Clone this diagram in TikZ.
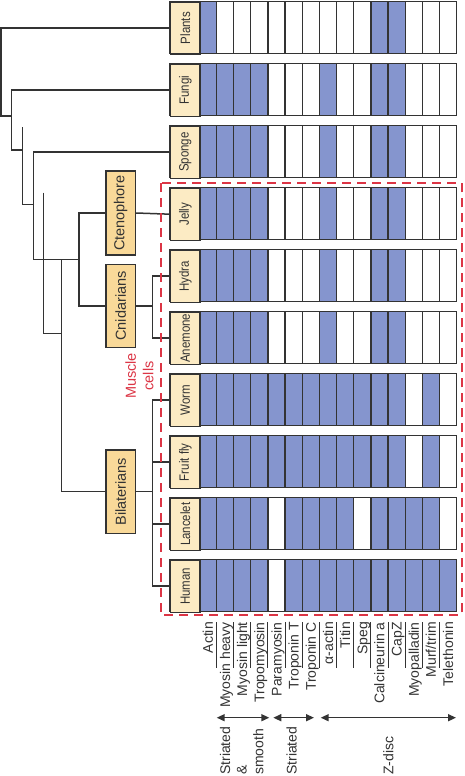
\documentclass[tikz,border=0pt]{standalone}
\usepackage{fontspec}
\setmainfont{Liberation Sans}
\usepackage{graphicx}
\usetikzlibrary{arrows.meta}
\definecolor{cellblue}{HTML}{8595CE}
\definecolor{labfill}{HTML}{FCEBC4}
\definecolor{grpfill}{HTML}{F9D999}
\definecolor{ink}{HTML}{333333}
\definecolor{musred}{HTML}{DC3545}
\tikzset{
  rowlab/.style={draw=ink, fill=labfill, line width=1.4pt, minimum width=29.3pt, minimum height=52pt, inner sep=0pt, anchor=north west, text=ink, font=\fontsize{13.5}{15}\selectfont},
  grpbox/.style={draw=ink, fill=grpfill, line width=1.5pt, minimum width=29.3pt, inner sep=0pt, text=ink, font=\fontsize{14.5}{17}\selectfont},
  branch/.style={draw=ink, line width=1.5pt},
  cellline/.style={draw=ink, line width=1.4pt},
  protlab/.style={rotate=90, anchor=east, inner sep=0pt, text height=10pt, text depth=0pt, font=\fontsize{14}{16.8}\selectfont, text=ink},
  sepline/.style={draw=ink, line width=1pt},
  rangearrow/.style={draw=ink, line width=1.5pt, {Triangle[length=8pt,width=7pt]}-{Triangle[length=8pt,width=7pt]}},
  rangetext/.style={rotate=90, anchor=west, inner sep=0pt, align=left, font=\fontsize{14}{16.7}\selectfont, text=ink},
}
\begin{document}
\begin{tikzpicture}[x=1pt,y=-1pt]
\useasboundingbox (0,0) rectangle (464,776);
\fill[white] (0,0) rectangle (464,776);

% table rows
\foreach \lab/\nm/\cols [count=\i from 0] in {
  Plants/plants/{1,11,12},
  Fungi/fungi/{1,2,3,4,8,11,12},
  Sponge/sponge/{1,2,3,4,8,11,12},
  Jelly/jelly/{1,2,3,4,8,11,12},
  Hydra/hydra/{1,2,3,4,8,11,12},
  Anemone/anemone/{1,2,3,4,8,11,12},
  Worm/worm/{1,2,3,4,5,6,7,8,9,10,11,12,14},
  Fruit fly/fly/{1,2,3,4,5,6,7,8,9,10,11,12,14},
  Lancelet/lancelet/{1,2,3,4,6,7,8,9,11,12,13,14},
  Human/human/{1,2,3,4,6,7,8,9,10,11,12,13,14,15}}{
  \pgfmathsetmacro\rt{1.5+62*\i}
  \fill[white] (199.3,\rt) rectangle (456.7,\rt+52);
  \foreach \c in \cols { \fill[cellblue] ({199.3+17.16*(\c-1)},\rt) rectangle ++(17.16,52); }
  \foreach \k in {1,...,14} { \draw[cellline] ({199.3+17.16*\k},\rt) -- ++(0,52); }
  \draw[cellline] (170,\rt) rectangle (456.7,\rt+52);
  \node[rowlab] (\nm) at (170,\rt) {\rotatebox{90}{\scalebox{0.85}[1]{\lab}}};
}

% group boxes
\node[grpbox, minimum height=84pt] (cteno) at (120.65,213) {\rotatebox{90}{Ctenophore}};
\node[grpbox, minimum height=83.4pt] (cnid) at (120.65,306) {\rotatebox{90}{Cnidarians}};
\node[grpbox, minimum height=83.3pt] (bilat) at (120.65,491.7) {\rotatebox{90}{Bilaterians}};

% tree junctions
\coordinate (j1) at (1,116);
\coordinate (j2) at (11.7,116);
\coordinate (j3) at (11.7,150);
\coordinate (j4) at (22.3,150);
\coordinate (j5t) at (22.3,127.3);
\coordinate (j5) at (22.3,204.3);
\coordinate (j6) at (33.3,204.3);
\coordinate (j7) at (33.3,259.3);
\coordinate (j8) at (61.3,259.3);
\coordinate (j9) at (79,259.3);
\coordinate (j10t) at (43.3,192.7);
\coordinate (j10) at (43.3,333.3);
\coordinate (j11) at (61.3,333.3);
\coordinate (j12) at (152.3,306);
\coordinate (j13) at (152.7,491.7);

\draw[branch] (plants.west) -| (j1) -- (j2);
\draw[branch] (fungi.west) -| (j3) -- (j4);
\draw[branch] (j5t) -- (j5) -- (j6);
\draw[branch] (sponge.west) -| (j7) -- (j9);
\draw[branch] (j10t) -- (j10) -- (j11);
\draw[branch] (j8) |- (bilat.west);
\draw[branch] (cteno.west) -| (j9) |- (cnid.west);
\draw[branch] (cteno.east) -- (jelly.west);
\draw[branch] (cnid.east) -- (j12);
\draw[branch] (hydra.west) -| (j12) |- (anemone.west);
\draw[branch] (bilat.east) -- (j13);
\draw[branch] (worm.west) -| (j13) |- (human.west);
\draw[branch] (fly.west) -- (fly.west -| j13);
\draw[branch] (lancelet.west) -- (lancelet.west -| j13);

% muscle cells box
\draw[musred, line width=2pt, dash pattern=on 9pt off 6pt] (161,183.3) rectangle (461.7,615);
\node[rotate=90, align=center, text=musred, inner sep=0pt, font=\fontsize{14.5}{17.6}\selectfont] (muscle) at (139.5,376) {Muscle\\cells};

% protein labels
\foreach \p [count=\k] in {Actin, Myosin heavy, Myosin light, Tropomyosin, Paramyosin, Troponin T, Troponin C, α-actin, Titin, Speg, Calcineurin a, CapZ, Myopalladin, Murf/trim, Telethonin}{
  \node[protlab] (p\k) at ({199.3+17.16*(\k-0.5)},622) {\p};
}
\foreach \k in {1,...,14}{
  \draw[sepline] ({199.3+17.16*\k},622) -- ++(0,46);
}

% ranges
\coordinate (a1l) at (216.7,717.7);
\coordinate (a1r) at (269.3,717.7);
\coordinate (a2l) at (273.3,717.7);
\coordinate (a2r) at (314,717.7);
\coordinate (a3l) at (320.7,717.7);
\coordinate (a3r) at (456,717.7);
\draw[rangearrow] (a1l) -- (a1r);
\draw[rangearrow] (a2l) -- (a2r);
\draw[rangearrow] (a3l) -- (a3r);
\node[rangetext] (sas) at (241.7,775) {Striated\\\&\\smooth};
\node[rangetext] (str) at (291.7,775) {Striated};
\node[rangetext] (zd) at (388.3,775) {Z-disc};
\end{tikzpicture}
\end{document}
